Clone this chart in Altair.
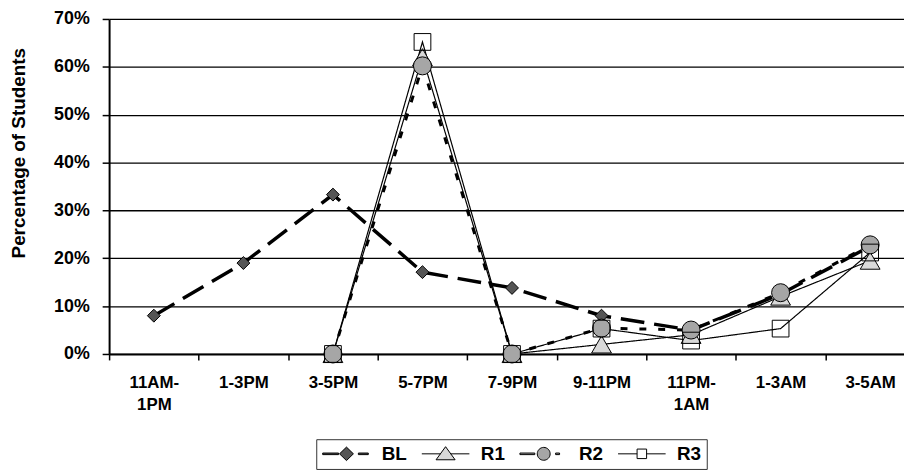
import json
import altair as alt
import pandas as pd

# ---- data ----
categories = ["11AM-1PM", "1-3PM", "3-5PM", "5-7PM", "7-9PM", "9-11PM", "11PM-1AM", "1-3AM", "3-5AM"]
tick_labels = [["11AM-", "1PM"], ["1-3PM"], ["3-5PM"], ["5-7PM"], ["7-9PM"], ["9-11PM"],
               ["11PM-", "1AM"], ["1-3AM"], ["3-5AM"]]
series_names = ["BL", "R1", "R2", "R3"]
bl = [8.0, 19.0, 33.3, 17.1, 13.8, 8.0, 5.0, 12.5, 22.5]
r1 = [None, None, 0.0, 62.0, 0.0, 2.0, 4.0, 12.0, 19.5]
r2 = [None, None, 0.0, 60.2, 0.0, 5.4, 5.0, 12.8, 22.8]
r3 = [None, None, 0.0, 65.2, 0.0, 5.3, 2.8, 5.3, 21.2]
y_ticks = [0, 10, 20, 30, 40, 50, 60, 70]

# ---- styles ----
FONT = "Liberation Sans"
marker_shapes = ["diamond", "triangle-up", "circle", "square"]
marker_fills = ["#555555", "#d9d9d9", "#a6a6a6", "transparent"]
marker_strokes = ["black", "black", "black", "black"]
marker_sizes = [170, 400, 330, 285]
line_dashes = [[24, 10], [1, 0], [7, 12], [1, 0]]
line_widths = [3.5, 1.2, 3.0, 1.2]
legend_paths = [
    "M-1,-0.1H1V0.1H-1Z M1.125,0L2,-0.85L2.875,0L2,0.85Z M3.5,-0.1H4.75V0.1H3.5Z",
    "M-1,0H1.35M2.65,0H5 M2,-0.9L3.2,0.75L0.8,0.75Z",
    "M-1,-0.1H0.875V0.1H-1Z M2.8125,0A0.8125,0.8125,0,1,1,1.1875,0A0.8125,0.8125,0,1,1,2.8125,0Z M3.5,-0.1H4V0.1H3.5Z",
    "M-1,0H1.4M2.6,0H5 M1.4,-0.6H2.6V0.6H1.4Z",
]

rows = []
for s, vals in zip(series_names, [bl, r1, r2, r3]):
    for i, (c, v) in enumerate(zip(categories, vals)):
        if v is not None:
            rows.append({"series": s, "category": c, "idx": i, "value": v})
df = pd.DataFrame(rows)
legend_df = pd.DataFrame({"series": series_names, "value": [-100.0] * len(series_names)})

label_expr = f"{json.dumps(tick_labels)}[indexof({json.dumps(categories)}, datum.value)]"

x_enc = alt.X(
    "category:N",
    sort=categories,
    scale=alt.Scale(type="band", domain=categories, range=[0, 813], paddingInner=0, paddingOuter=0),
    axis=alt.Axis(
        title=None, tickBand="extent", labelExpr=label_expr, labelAngle=0,
        labelFont=FONT, labelFontSize=17, labelFontWeight="bold", labelColor="black",
        labelPadding=15, labelLineHeight=22, labelOverlap=False,
        tickSize=6, tickColor="black", tickWidth=1.5,
        domainColor="black", domainWidth=2, grid=False,
    ),
)
y_enc = alt.Y(
    "value:Q",
    scale=alt.Scale(domain=[0, 70], nice=False, zero=True),
    axis=alt.Axis(
        title="Percentage of Students", values=y_ticks, labelExpr="datum.value + '%'",
        labelFont=FONT, labelFontSize=18, labelFontWeight="bold", labelColor="black",
        labelPadding=13, tickSize=7, tickColor="black", tickWidth=1.5,
        domainColor="black", domainWidth=2,
        grid=True, gridColor="black", gridWidth=1.3,
        titleFont=FONT, titleFontSize=19, titleFontWeight="bold", titleColor="black",
        titleAngle=-90, titleAlign="center", titleBaseline="alphabetic",
        titleX=-85, titleY=135,
    ),
)

lines = alt.Chart(df).mark_line(color="black").encode(
    x=x_enc,
    y=y_enc,
    order=alt.Order("idx:Q"),
    strokeDash=alt.StrokeDash("series:N", scale=alt.Scale(domain=series_names, range=line_dashes), legend=None),
    strokeWidth=alt.StrokeWidth("series:N", scale=alt.Scale(type="ordinal", domain=series_names, range=line_widths), legend=None),
)

points = alt.Chart(df).mark_point(filled=True, stroke="black", strokeWidth=1, opacity=1).encode(
    x=x_enc,
    y=y_enc,
    shape=alt.Shape("series:N", scale=alt.Scale(domain=series_names, range=marker_shapes), legend=None),
    fill=alt.Fill("series:N", scale=alt.Scale(domain=series_names, range=marker_fills), legend=None),
    size=alt.Size("series:N", scale=alt.Scale(type="ordinal", domain=series_names, range=marker_sizes), legend=None),
)

leg = alt.Legend(
    title=None, orient="none", legendX=209, legendY=424, direction="horizontal", columns=4,
    symbolSize=256, symbolStrokeColor="black", symbolStrokeWidth=1, symbolOpacity=1,
    labelFont=FONT, labelFontSize=19, labelFontWeight="bold", labelColor="black",
    labelOffset=42, columnPadding=12, padding=5, strokeColor="#333333",
)
legend_layer = alt.Chart(legend_df).mark_point(
    filled=True, strokeWidth=1, size=256, clip=True, opacity=1
).encode(
    y=y_enc,
    shape=alt.Shape("series:N", scale=alt.Scale(domain=series_names, range=legend_paths), legend=leg),
    fill=alt.Fill("series:N", scale=alt.Scale(domain=series_names, range=marker_fills), legend=leg),
    stroke=alt.Stroke("series:N", scale=alt.Scale(domain=series_names, range=marker_strokes), legend=leg),
)

chart = alt.layer(lines, points, legend_layer).resolve_scale(
    shape="independent", fill="independent", stroke="independent"
).properties(
    width=800, height=338,
    autosize=alt.AutoSizeParams(type="none"),
    padding={"left": 102, "top": 9, "right": 2, "bottom": 115},
    background="white",
).configure_view(stroke=None)

chart.save("out.html", embed_options={"renderer": "svg", "actions": False})
